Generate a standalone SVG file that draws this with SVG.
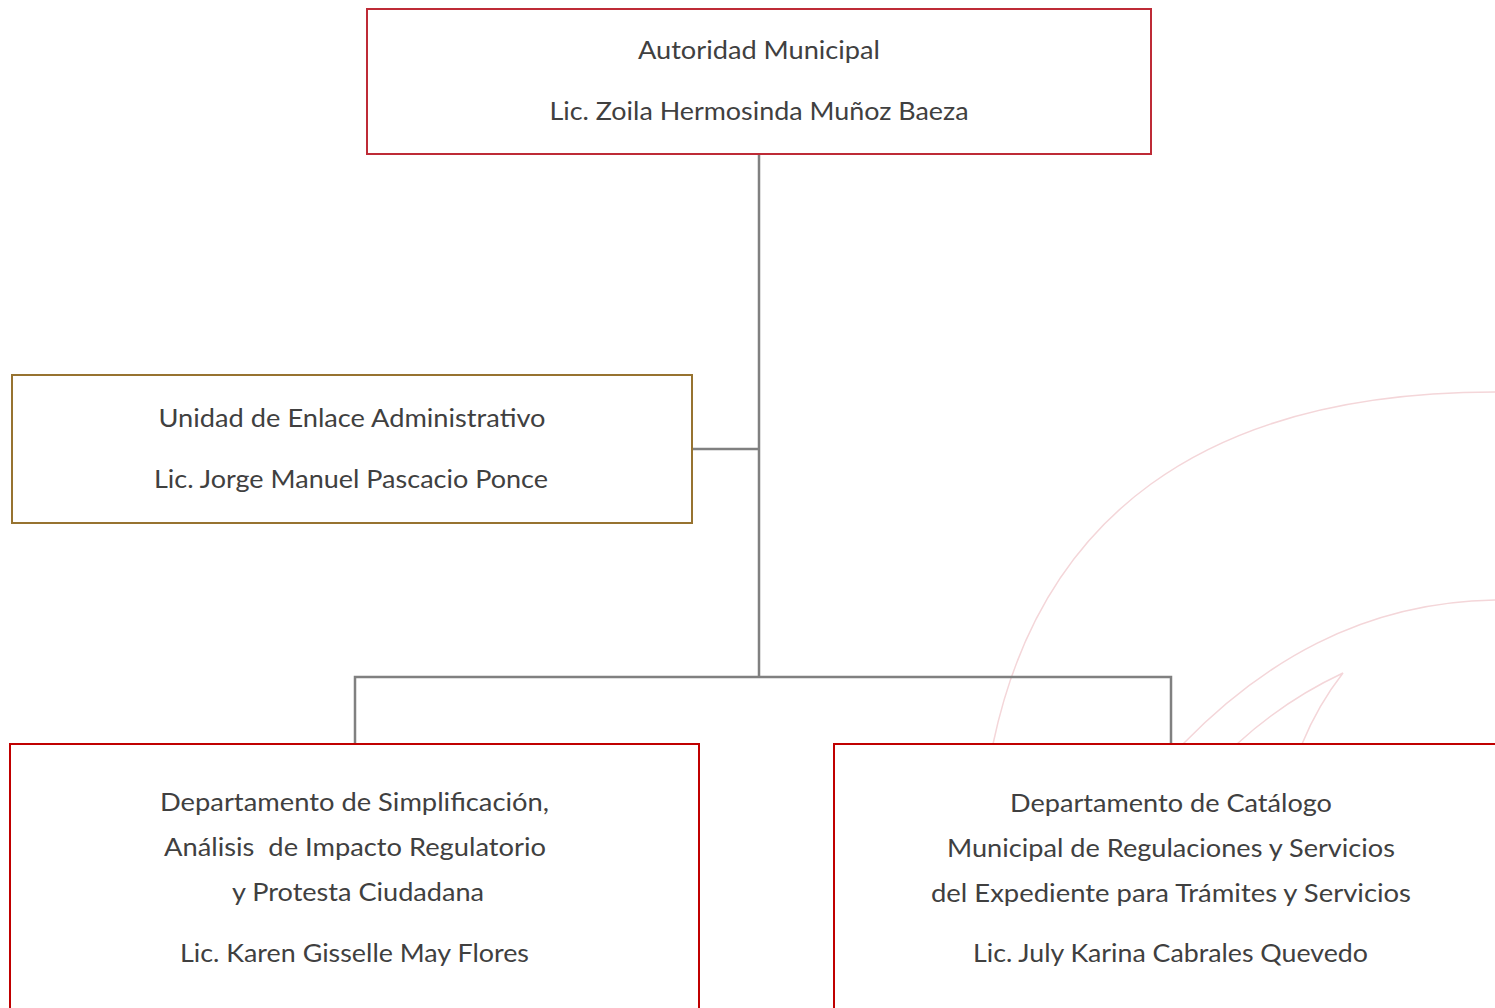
<svg xmlns="http://www.w3.org/2000/svg" width="1495" height="1008" viewBox="0 0 1495 1008">
<style>
.t{font-family:Lato,"Open Sans","Liberation Sans",sans-serif;font-size:25px;fill:#404040;text-anchor:middle}
.box{fill:#ffffff;stroke-width:2}
.wm{fill:none;stroke:#F4D6D9;stroke-width:1.5}
.conn{fill:none;stroke:#808080;stroke-width:2.5}
</style>
<rect width="1495" height="1008" fill="#ffffff"/>
<g id="watermark">
<path class="wm" d="M1495,392 C1200,392 1040,520 993,744"/>
<path class="wm" d="M1495,600 C1360,602 1260,665 1183,744"/>
<path class="wm" d="M1237,744 Q1285,700 1343,673 Q1318,705 1302,744"/>
</g>
<g id="connectors">
<path class="conn" d="M759,154 V677"/>
<path class="conn" d="M692,449 H759"/>
<path class="conn" d="M355,744 V677 H1171 V744"/>
</g>
<g id="autoridad">
<rect class="box" x="367" y="9" width="784" height="145" stroke="#BE2B36"/>
<text class="t" x="759" y="59" textLength="242" lengthAdjust="spacingAndGlyphs">Autoridad Municipal</text>
<text class="t" x="759" y="120" textLength="419" lengthAdjust="spacingAndGlyphs">Lic. Zoila Hermosinda Muñoz Baeza</text>
</g>
<g id="enlace">
<rect class="box" x="12" y="375" width="680" height="148" stroke="#977330"/>
<text class="t" x="352" y="427" textLength="387" lengthAdjust="spacingAndGlyphs">Unidad de Enlace Administrativo</text>
<text class="t" x="351" y="488" textLength="394" lengthAdjust="spacingAndGlyphs">Lic. Jorge Manuel Pascacio Ponce</text>
</g>
<g id="simplificacion">
<rect class="box" x="10" y="744" width="689" height="280" stroke="#C00000"/>
<text class="t" x="354.5" y="811" textLength="389" lengthAdjust="spacingAndGlyphs">Departamento de Simplificación,</text>
<text class="t" x="355" y="856" textLength="382" lengthAdjust="spacingAndGlyphs" xml:space="preserve">Análisis  de Impacto Regulatorio</text>
<text class="t" x="358" y="901" textLength="252" lengthAdjust="spacingAndGlyphs">y Protesta Ciudadana</text>
<text class="t" x="354.5" y="962" textLength="349" lengthAdjust="spacingAndGlyphs">Lic. Karen Gisselle May Flores</text>
</g>
<g id="catalogo">
<rect class="box" x="834" y="744" width="700" height="280" stroke="#C00000"/>
<text class="t" x="1171" y="812" textLength="322" lengthAdjust="spacingAndGlyphs">Departamento de Catálogo</text>
<text class="t" x="1171" y="857" textLength="448" lengthAdjust="spacingAndGlyphs">Municipal de Regulaciones y Servicios</text>
<text class="t" x="1171" y="902" textLength="480" lengthAdjust="spacingAndGlyphs">del Expediente para Trámites y Servicios</text>
<text class="t" x="1170.5" y="962" textLength="395" lengthAdjust="spacingAndGlyphs">Lic. July Karina Cabrales Quevedo</text>
</g>
</svg>
